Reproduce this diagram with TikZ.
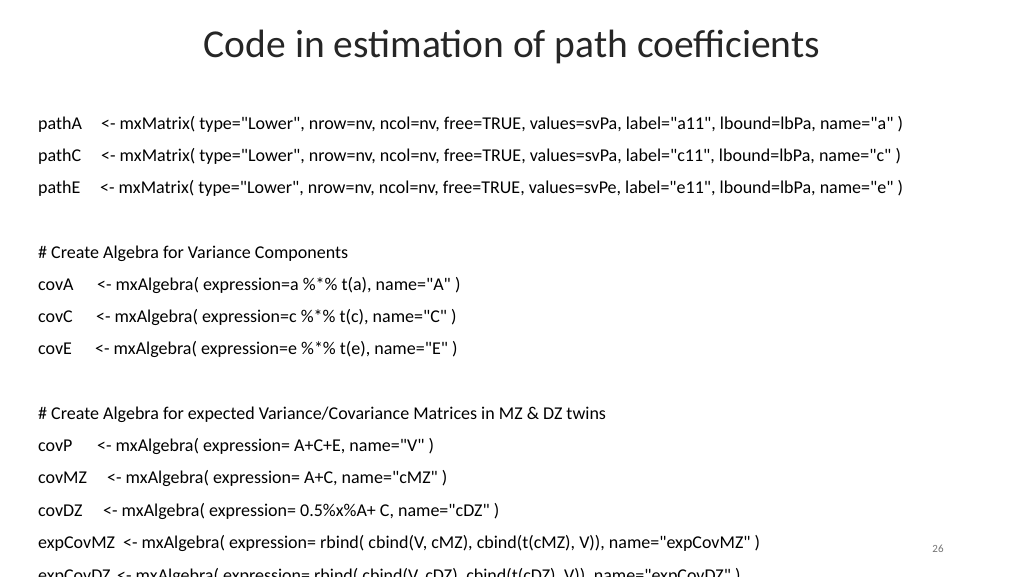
\documentclass[tikz,border=0pt]{standalone}
\usepackage{fontspec}
\setmainfont{Carlito}
\newfontfamily\codefont{Carlito}
\begin{document}
\begin{tikzpicture}[x=1pt,y=-1pt,
	codeline/.style={anchor=base west, inner sep=0pt, font=\codefont\fontsize{18}{20}\selectfont},
	pagenum/.style={inner sep=0pt, text=black!55, font=\fontsize{11}{12}\selectfont}]
	\clip (0,0) rectangle (1024,576);
	\fill[white] (0,0) rectangle (1024,576);
	\node[inner sep=0pt, font=\fontsize{39.5}{44}\selectfont, text=black!85] (title) at (512,47) {Code in estimation of path coefficients};

	% matrices for path coefficients
	\foreach \nm/\dx/\rest [count=\i] in {
		pathA/101/{<- mxMatrix( type="Lower", nrow=nv, ncol=nv, free=TRUE, values=svPa, label="a11", lbound=lbPa, name="a" )},
		pathC/101/{<- mxMatrix( type="Lower", nrow=nv, ncol=nv, free=TRUE, values=svPa, label="c11", lbound=lbPa, name="c" )},
		pathE/100/{<- mxMatrix( type="Lower", nrow=nv, ncol=nv, free=TRUE, values=svPe, label="e11", lbound=lbPa, name="e" )}}
	{
		\node[codeline] (name\i) at (38, 129 + 32.3*\i - 32.3) {\nm};
		\node[codeline] (def\i) at (\dx, 129 + 32.3*\i - 32.3) {\rest};
	}

	\node[codeline] (headvc) at (38,258) {\# Create Algebra for Variance Components};
	\foreach \nm/\dx/\rest [count=\i] in {
		covA/97/{<- mxAlgebra( expression=a \%*\% t(a), name="A" )},
		covC/96/{<- mxAlgebra( expression=c \%*\% t(c), name="C" )},
		covE/95/{<- mxAlgebra( expression=e \%*\% t(e), name="E" )}}
	{
		\node[codeline] (vcname\i) at (38, 290 + 32.3*\i - 32.3) {\nm};
		\node[codeline] (vcdef\i) at (\dx, 290 + 32.3*\i - 32.3) {\rest};
	}

	\node[codeline] (headexp) at (38,419) {\# Create Algebra for expected Variance/Covariance Matrices in MZ \& DZ twins};
	\foreach \nm/\dx/\rest [count=\i] in {
		covP/97/{<- mxAlgebra( expression= A+C+E, name="V" )},
		covMZ/107/{<- mxAlgebra( expression= A+C, name="cMZ" )},
		covDZ/103/{<- mxAlgebra( expression= 0.5\%x\%A+ C, name="cDZ" )},
		expCovMZ/123/{<- mxAlgebra( expression= rbind( cbind(V, cMZ), cbind(t(cMZ), V)), name="expCovMZ" )},
		expCovDZ/117/{<- mxAlgebra( expression= rbind( cbind(V, cDZ), cbind(t(cDZ), V)), name="expCovDZ" )}}
	{
		\node[codeline] (exname\i) at (38, 451 + 32.5*\i - 32.5) {\nm};
		\node[codeline] (exdef\i) at (\dx, 451 + 32.5*\i - 32.5) {\rest};
	}

	\node[pagenum] (page) at (938,549) {26};
\end{tikzpicture}
\end{document}
